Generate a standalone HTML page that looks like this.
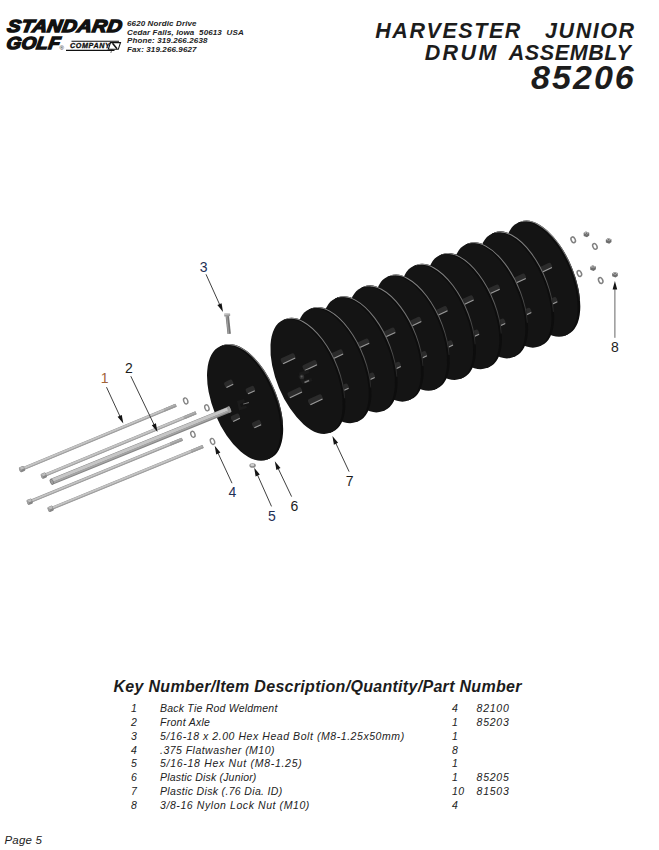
<!DOCTYPE html>
<html><head><meta charset="utf-8"><title>Harvester Junior Drum Assembly 85206</title>
<style>
html,body{margin:0;padding:0;background:#fff;}
body{width:659px;height:850px;position:relative;overflow:hidden;font-family:"Liberation Sans",sans-serif;color:#1a1a1a;}
.abs{position:absolute;white-space:nowrap;}
.logo1{left:8.8px;top:17.3px;font-size:17.4px;font-weight:bold;font-style:italic;letter-spacing:0.3px;line-height:19px;transform-origin:0 0;transform:scaleX(1.165) skewX(-8deg);color:#111;-webkit-text-stroke:1.35px #111;}
.logo2{left:8.2px;top:34.2px;font-size:17.4px;font-weight:bold;font-style:italic;letter-spacing:0.3px;line-height:19px;transform-origin:0 0;transform:scaleX(1.09) skewX(-8deg);color:#111;-webkit-text-stroke:1.35px #111;}
.reg{left:59.5px;top:45px;font-size:6px;line-height:6px;color:#111;}
.comp{left:69.5px;top:42px;font-size:6.4px;line-height:8px;font-weight:bold;font-style:italic;letter-spacing:0.55px;color:#111;transform-origin:0 0;transform:scaleX(1.12);-webkit-text-stroke:0.3px #111;}
.addr{left:127px;top:20.4px;font-size:8px;line-height:8.53px;font-weight:bold;font-style:italic;letter-spacing:0.12px;color:#222;white-space:pre;}
.t{right:25px;text-align:right;font-style:italic;font-weight:bold;color:#1c1c1c;}
.t1{top:18.5px;right:23.4px;font-size:21.5px;line-height:24px;letter-spacing:1.55px;word-spacing:15.7px;}
.t2{top:40.5px;right:27.6px;font-size:21.5px;line-height:24px;word-spacing:4px;}
.t3{top:58px;right:23.2px;font-size:34px;line-height:38px;letter-spacing:2.05px;}
.kh{left:113.5px;top:676.8px;font-size:16px;letter-spacing:0.3px;line-height:20px;font-weight:bold;font-style:italic;color:#1c1c1c;}
table{position:absolute;left:120px;top:702px;border-collapse:collapse;font-size:10.5px;font-style:italic;color:#222;}
td{padding:0;height:13.85px;line-height:13.85px;white-space:nowrap;}
td.k{width:40px;padding-left:11px;box-sizing:border-box;}
td.d{width:292px;}
td.q{width:24.6px;letter-spacing:0.5px;}
td.p{letter-spacing:0.75px;}
.pg{left:4.5px;top:833px;letter-spacing:0.2px;font-size:11.5px;line-height:14px;font-style:italic;color:#222;}
svg.draw{position:absolute;left:0;top:0;}
svg.draw text{font-family:"Liberation Sans",sans-serif;font-size:14px;fill:#1f2a44;}
</style></head><body>
<div class="abs logo1">STANDARD</div>
<div class="abs logo2">GOLF</div>
<div class="abs reg">&#174;</div>
<svg class="abs" style="left:64px;top:38px" width="60" height="16" viewBox="0 0 60 16">
<path d="M7.5 3.2H55M2 12.4H50.5" stroke="#111" stroke-width="1.1" fill="none"/>
<path d="M46.5 4.6H56.5L54.3 11.3H44.3Z" fill="#fff" stroke="#111" stroke-width="1.1"/>
<path d="M48.5 5.3L53 10.8" stroke="#111" stroke-width="1.5"/>
<path d="M48 11.3L46.8 15" stroke="#111" stroke-width="0.6"/>
</svg>
<div class="abs comp">COMPANY</div>
<div class="abs addr">6620 Nordic Drive
Cedar Falls, Iowa  50613  USA
Phone: 319.266.2638
Fax: 319.266.9627</div>
<div class="abs t t1">HARVESTER JUNIOR</div>
<div class="abs t t2"><span style="letter-spacing:2.4px">DRUM</span> <span style="letter-spacing:0.6px">ASSEMBLY</span></div>
<div class="abs t t3">85206</div>
<svg class="draw" width="659" height="850" viewBox="0 0 659 850">
<defs><linearGradient id="hl" gradientUnits="userSpaceOnUse" x1="-61" y1="0" x2="40" y2="0"><stop offset="0" stop-color="#8c8c8c"/><stop offset="0.55" stop-color="#6a6a6a"/><stop offset="1" stop-color="#1a1a1a"/></linearGradient></defs>
<g transform="translate(245.1,402.4) rotate(67.5)"><g transform="translate(0,1.45)"><ellipse cx="0" cy="-2.9" rx="61.3" ry="30.6" fill="#0d0d0d"/><rect x="-61.3" y="-2.9" width="122.6" height="2.9" fill="#0d0d0d"/><path d="M-60.9 -2.4A60.9 30.6 0 0 1 34.9 -27.5" fill="none" stroke="url(#hl)" stroke-width="1"/><ellipse cx="0" cy="0" rx="61.3" ry="30.6" fill="#141414"/></g></g><g transform="translate(228.8,383.7) rotate(-25)"><rect x="-4.5" y="-3.1" width="9" height="6.2" rx="2" fill="#2b2b2b"/><rect x="-3.7" y="1.9000000000000001" width="7.4" height="1.1" fill="#9a9a9a"/></g><g transform="translate(250.4,390.0) rotate(-25)"><rect x="-4.5" y="-3.1" width="9" height="6.2" rx="2" fill="#2b2b2b"/><rect x="-3.7" y="1.9000000000000001" width="7.4" height="1.1" fill="#9a9a9a"/></g><g transform="translate(235.5,417.6) rotate(-25)"><rect x="-4.5" y="-3.1" width="9" height="6.2" rx="2" fill="#2b2b2b"/><rect x="-3.7" y="1.9000000000000001" width="7.4" height="1.1" fill="#9a9a9a"/></g><g transform="translate(256.7,424.0) rotate(-25)"><rect x="-4.5" y="-3.1" width="9" height="6.2" rx="2" fill="#2b2b2b"/><rect x="-3.7" y="1.9000000000000001" width="7.4" height="1.1" fill="#9a9a9a"/></g><g transform="translate(240,404)"><path d="M-3 -3L4 -5L5 -2L0 0L1 3L6 1.5L7 4L-1 6.5Z" fill="#1b1b1b"/><rect x="3" y="0.5" width="6" height="1" fill="#777" transform="rotate(-16)"/></g>
<ellipse cx="185.7" cy="400.9" rx="2.0" ry="3.1" transform="rotate(-20 185.7 400.9)" fill="#fff" stroke="#858585" stroke-width="1.4"/>
<ellipse cx="206.9" cy="407.8" rx="2.0" ry="3.1" transform="rotate(-20 206.9 407.8)" fill="#fff" stroke="#858585" stroke-width="1.4"/>
<g transform="translate(22.3,469) rotate(-22.53)"><rect x="0" y="-1.60" width="166.5" height="3.20" fill="#8e8e8e"/><rect x="0" y="-1.30" width="166.5" height="1.98" fill="#c4c4c4"/><rect x="0" y="0.68" width="166.5" height="0.58" fill="#a8a8a8"/><rect x="153.5" y="-1.60" width="13" height="3.20" rx="0.8" fill="#9a9a9a"/><rect x="153.5" y="-1.20" width="12.5" height="1.44" fill="#b0b0b0"/><rect x="-3" y="-2.7" width="5.4" height="5.4" rx="1.2" fill="#858585"/><rect x="-2.5" y="-2.3" width="4.4" height="2.6" rx="0.6" fill="#bdbdbd"/><ellipse cx="-2.2" cy="0" rx="1" ry="2" fill="#9d9d9d"/></g>
<g transform="translate(44.1,475.5) rotate(-22.43)"><rect x="0" y="-1.60" width="164.3" height="3.20" fill="#8e8e8e"/><rect x="0" y="-1.30" width="164.3" height="1.98" fill="#c4c4c4"/><rect x="0" y="0.68" width="164.3" height="0.58" fill="#a8a8a8"/><rect x="151.3" y="-1.60" width="13" height="3.20" rx="0.8" fill="#9a9a9a"/><rect x="151.3" y="-1.20" width="12.5" height="1.44" fill="#b0b0b0"/><rect x="-3" y="-2.7" width="5.4" height="5.4" rx="1.2" fill="#858585"/><rect x="-2.5" y="-2.3" width="4.4" height="2.6" rx="0.6" fill="#bdbdbd"/><ellipse cx="-2.2" cy="0" rx="1" ry="2" fill="#9d9d9d"/></g>
<g transform="translate(50.5,482.3) rotate(-22.16)"><rect x="0" y="-3.1" width="194.4" height="6.2" rx="1.5" fill="#858585"/><rect x="0.6" y="-2.7" width="193.2" height="3.2" fill="#c6c6c6"/><rect x="0.6" y="0.5" width="193.2" height="1.5" fill="#a6a6a6"/><ellipse cx="1.4" cy="0" rx="1.5" ry="2.8" fill="#a0a0a0" stroke="#707070" stroke-width="0.6"/><rect x="191.4" y="-3.1" width="3" height="6.2" rx="1" fill="#9a9a9a"/></g>
<g transform="translate(30,501.6) rotate(-22.28)"><rect x="0" y="-1.60" width="164.6" height="3.20" fill="#8e8e8e"/><rect x="0" y="-1.30" width="164.6" height="1.98" fill="#c4c4c4"/><rect x="0" y="0.68" width="164.6" height="0.58" fill="#a8a8a8"/><rect x="151.6" y="-1.60" width="13" height="3.20" rx="0.8" fill="#9a9a9a"/><rect x="151.6" y="-1.20" width="12.5" height="1.44" fill="#b0b0b0"/><rect x="-3" y="-2.7" width="5.4" height="5.4" rx="1.2" fill="#858585"/><rect x="-2.5" y="-2.3" width="4.4" height="2.6" rx="0.6" fill="#bdbdbd"/><ellipse cx="-2.2" cy="0" rx="1" ry="2" fill="#9d9d9d"/></g>
<g transform="translate(50.9,508.7) rotate(-22.23)"><rect x="0" y="-1.60" width="164.4" height="3.20" fill="#8e8e8e"/><rect x="0" y="-1.30" width="164.4" height="1.98" fill="#c4c4c4"/><rect x="0" y="0.68" width="164.4" height="0.58" fill="#a8a8a8"/><rect x="151.4" y="-1.60" width="13" height="3.20" rx="0.8" fill="#9a9a9a"/><rect x="151.4" y="-1.20" width="12.5" height="1.44" fill="#b0b0b0"/><rect x="-3" y="-2.7" width="5.4" height="5.4" rx="1.2" fill="#858585"/><rect x="-2.5" y="-2.3" width="4.4" height="2.6" rx="0.6" fill="#bdbdbd"/><ellipse cx="-2.2" cy="0" rx="1" ry="2" fill="#9d9d9d"/></g>
<ellipse cx="192.9" cy="434.3" rx="2.0" ry="3.1" transform="rotate(-20 192.9 434.3)" fill="#fff" stroke="#858585" stroke-width="1.4"/>
<ellipse cx="212.5" cy="441.4" rx="2.0" ry="3.1" transform="rotate(-20 212.5 441.4)" fill="#fff" stroke="#858585" stroke-width="1.4"/>
<g transform="translate(542.8,278.7) rotate(67.4)"><g transform="translate(0,1.45)"><ellipse cx="0" cy="-2.9" rx="61.1" ry="29.8" fill="#0d0d0d"/><rect x="-61.1" y="-2.9" width="122.2" height="2.9" fill="#0d0d0d"/><path d="M-60.7 -2.4A60.7 29.8 0 0 1 34.8 -26.8" fill="none" stroke="url(#hl)" stroke-width="1"/><ellipse cx="0" cy="0" rx="61.1" ry="29.8" fill="#141414"/></g></g><g transform="translate(523.0,261.4) rotate(-25)"><rect x="-7.5" y="-3.1" width="15" height="6.2" rx="2" fill="#2b2b2b"/><rect x="-6.7" y="1.9000000000000001" width="13.4" height="1.1" fill="#9a9a9a"/></g><g transform="translate(529.8,295.5) rotate(-25)"><rect x="-7.5" y="-3.1" width="15" height="6.2" rx="2" fill="#2b2b2b"/><rect x="-6.7" y="1.9000000000000001" width="13.4" height="1.1" fill="#9a9a9a"/></g><g transform="translate(544.8,268.2) rotate(-25)"><rect x="-7.5" y="-3.1" width="15" height="6.2" rx="2" fill="#2b2b2b"/><rect x="-6.7" y="1.9000000000000001" width="13.4" height="1.1" fill="#9a9a9a"/></g><g transform="translate(550.2,302.4) rotate(-25)"><rect x="-7.5" y="-3.1" width="15" height="6.2" rx="2" fill="#2b2b2b"/><rect x="-6.7" y="1.9000000000000001" width="13.4" height="1.1" fill="#9a9a9a"/></g>
<g transform="translate(516.7,289.5) rotate(67.4)"><g transform="translate(0,1.45)"><ellipse cx="0" cy="-2.9" rx="61.1" ry="29.8" fill="#0d0d0d"/><rect x="-61.1" y="-2.9" width="122.2" height="2.9" fill="#0d0d0d"/><path d="M-60.7 -2.4A60.7 29.8 0 0 1 34.8 -26.8" fill="none" stroke="url(#hl)" stroke-width="1"/><ellipse cx="0" cy="0" rx="61.1" ry="29.8" fill="#141414"/></g></g><g transform="translate(496.9,272.2) rotate(-25)"><rect x="-7.5" y="-3.1" width="15" height="6.2" rx="2" fill="#2b2b2b"/><rect x="-6.7" y="1.9000000000000001" width="13.4" height="1.1" fill="#9a9a9a"/></g><g transform="translate(503.7,306.3) rotate(-25)"><rect x="-7.5" y="-3.1" width="15" height="6.2" rx="2" fill="#2b2b2b"/><rect x="-6.7" y="1.9000000000000001" width="13.4" height="1.1" fill="#9a9a9a"/></g><g transform="translate(518.7,279.0) rotate(-25)"><rect x="-7.5" y="-3.1" width="15" height="6.2" rx="2" fill="#2b2b2b"/><rect x="-6.7" y="1.9000000000000001" width="13.4" height="1.1" fill="#9a9a9a"/></g><g transform="translate(524.2,313.2) rotate(-25)"><rect x="-7.5" y="-3.1" width="15" height="6.2" rx="2" fill="#2b2b2b"/><rect x="-6.7" y="1.9000000000000001" width="13.4" height="1.1" fill="#9a9a9a"/></g>
<g transform="translate(490.6,300.3) rotate(67.4)"><g transform="translate(0,1.45)"><ellipse cx="0" cy="-2.9" rx="61.1" ry="29.8" fill="#0d0d0d"/><rect x="-61.1" y="-2.9" width="122.2" height="2.9" fill="#0d0d0d"/><path d="M-60.7 -2.4A60.7 29.8 0 0 1 34.8 -26.8" fill="none" stroke="url(#hl)" stroke-width="1"/><ellipse cx="0" cy="0" rx="61.1" ry="29.8" fill="#141414"/></g></g><g transform="translate(470.8,283.0) rotate(-25)"><rect x="-7.5" y="-3.1" width="15" height="6.2" rx="2" fill="#2b2b2b"/><rect x="-6.7" y="1.9000000000000001" width="13.4" height="1.1" fill="#9a9a9a"/></g><g transform="translate(477.6,317.1) rotate(-25)"><rect x="-7.5" y="-3.1" width="15" height="6.2" rx="2" fill="#2b2b2b"/><rect x="-6.7" y="1.9000000000000001" width="13.4" height="1.1" fill="#9a9a9a"/></g><g transform="translate(492.6,289.8) rotate(-25)"><rect x="-7.5" y="-3.1" width="15" height="6.2" rx="2" fill="#2b2b2b"/><rect x="-6.7" y="1.9000000000000001" width="13.4" height="1.1" fill="#9a9a9a"/></g><g transform="translate(498.1,324.0) rotate(-25)"><rect x="-7.5" y="-3.1" width="15" height="6.2" rx="2" fill="#2b2b2b"/><rect x="-6.7" y="1.9000000000000001" width="13.4" height="1.1" fill="#9a9a9a"/></g>
<g transform="translate(464.5,311.1) rotate(67.4)"><g transform="translate(0,1.45)"><ellipse cx="0" cy="-2.9" rx="61.1" ry="29.8" fill="#0d0d0d"/><rect x="-61.1" y="-2.9" width="122.2" height="2.9" fill="#0d0d0d"/><path d="M-60.7 -2.4A60.7 29.8 0 0 1 34.8 -26.8" fill="none" stroke="url(#hl)" stroke-width="1"/><ellipse cx="0" cy="0" rx="61.1" ry="29.8" fill="#141414"/></g></g><g transform="translate(444.7,293.8) rotate(-25)"><rect x="-7.5" y="-3.1" width="15" height="6.2" rx="2" fill="#2b2b2b"/><rect x="-6.7" y="1.9000000000000001" width="13.4" height="1.1" fill="#9a9a9a"/></g><g transform="translate(451.5,327.9) rotate(-25)"><rect x="-7.5" y="-3.1" width="15" height="6.2" rx="2" fill="#2b2b2b"/><rect x="-6.7" y="1.9000000000000001" width="13.4" height="1.1" fill="#9a9a9a"/></g><g transform="translate(466.5,300.6) rotate(-25)"><rect x="-7.5" y="-3.1" width="15" height="6.2" rx="2" fill="#2b2b2b"/><rect x="-6.7" y="1.9000000000000001" width="13.4" height="1.1" fill="#9a9a9a"/></g><g transform="translate(472.0,334.8) rotate(-25)"><rect x="-7.5" y="-3.1" width="15" height="6.2" rx="2" fill="#2b2b2b"/><rect x="-6.7" y="1.9000000000000001" width="13.4" height="1.1" fill="#9a9a9a"/></g>
<g transform="translate(438.4,321.9) rotate(67.4)"><g transform="translate(0,1.45)"><ellipse cx="0" cy="-2.9" rx="61.1" ry="29.8" fill="#0d0d0d"/><rect x="-61.1" y="-2.9" width="122.2" height="2.9" fill="#0d0d0d"/><path d="M-60.7 -2.4A60.7 29.8 0 0 1 34.8 -26.8" fill="none" stroke="url(#hl)" stroke-width="1"/><ellipse cx="0" cy="0" rx="61.1" ry="29.8" fill="#141414"/></g></g><g transform="translate(418.6,304.6) rotate(-25)"><rect x="-7.5" y="-3.1" width="15" height="6.2" rx="2" fill="#2b2b2b"/><rect x="-6.7" y="1.9000000000000001" width="13.4" height="1.1" fill="#9a9a9a"/></g><g transform="translate(425.4,338.7) rotate(-25)"><rect x="-7.5" y="-3.1" width="15" height="6.2" rx="2" fill="#2b2b2b"/><rect x="-6.7" y="1.9000000000000001" width="13.4" height="1.1" fill="#9a9a9a"/></g><g transform="translate(440.4,311.4) rotate(-25)"><rect x="-7.5" y="-3.1" width="15" height="6.2" rx="2" fill="#2b2b2b"/><rect x="-6.7" y="1.9000000000000001" width="13.4" height="1.1" fill="#9a9a9a"/></g><g transform="translate(445.9,345.6) rotate(-25)"><rect x="-7.5" y="-3.1" width="15" height="6.2" rx="2" fill="#2b2b2b"/><rect x="-6.7" y="1.9000000000000001" width="13.4" height="1.1" fill="#9a9a9a"/></g>
<g transform="translate(412.3,332.7) rotate(67.4)"><g transform="translate(0,1.45)"><ellipse cx="0" cy="-2.9" rx="61.1" ry="29.8" fill="#0d0d0d"/><rect x="-61.1" y="-2.9" width="122.2" height="2.9" fill="#0d0d0d"/><path d="M-60.7 -2.4A60.7 29.8 0 0 1 34.8 -26.8" fill="none" stroke="url(#hl)" stroke-width="1"/><ellipse cx="0" cy="0" rx="61.1" ry="29.8" fill="#141414"/></g></g><g transform="translate(392.4,315.4) rotate(-25)"><rect x="-7.5" y="-3.1" width="15" height="6.2" rx="2" fill="#2b2b2b"/><rect x="-6.7" y="1.9000000000000001" width="13.4" height="1.1" fill="#9a9a9a"/></g><g transform="translate(399.2,349.5) rotate(-25)"><rect x="-7.5" y="-3.1" width="15" height="6.2" rx="2" fill="#2b2b2b"/><rect x="-6.7" y="1.9000000000000001" width="13.4" height="1.1" fill="#9a9a9a"/></g><g transform="translate(414.2,322.2) rotate(-25)"><rect x="-7.5" y="-3.1" width="15" height="6.2" rx="2" fill="#2b2b2b"/><rect x="-6.7" y="1.9000000000000001" width="13.4" height="1.1" fill="#9a9a9a"/></g><g transform="translate(419.8,356.4) rotate(-25)"><rect x="-7.5" y="-3.1" width="15" height="6.2" rx="2" fill="#2b2b2b"/><rect x="-6.7" y="1.9000000000000001" width="13.4" height="1.1" fill="#9a9a9a"/></g>
<g transform="translate(386.2,343.5) rotate(67.4)"><g transform="translate(0,1.45)"><ellipse cx="0" cy="-2.9" rx="61.1" ry="29.8" fill="#0d0d0d"/><rect x="-61.1" y="-2.9" width="122.2" height="2.9" fill="#0d0d0d"/><path d="M-60.7 -2.4A60.7 29.8 0 0 1 34.8 -26.8" fill="none" stroke="url(#hl)" stroke-width="1"/><ellipse cx="0" cy="0" rx="61.1" ry="29.8" fill="#141414"/></g></g><g transform="translate(366.4,326.2) rotate(-25)"><rect x="-7.5" y="-3.1" width="15" height="6.2" rx="2" fill="#2b2b2b"/><rect x="-6.7" y="1.9000000000000001" width="13.4" height="1.1" fill="#9a9a9a"/></g><g transform="translate(373.2,360.3) rotate(-25)"><rect x="-7.5" y="-3.1" width="15" height="6.2" rx="2" fill="#2b2b2b"/><rect x="-6.7" y="1.9000000000000001" width="13.4" height="1.1" fill="#9a9a9a"/></g><g transform="translate(388.2,333.0) rotate(-25)"><rect x="-7.5" y="-3.1" width="15" height="6.2" rx="2" fill="#2b2b2b"/><rect x="-6.7" y="1.9000000000000001" width="13.4" height="1.1" fill="#9a9a9a"/></g><g transform="translate(393.7,367.2) rotate(-25)"><rect x="-7.5" y="-3.1" width="15" height="6.2" rx="2" fill="#2b2b2b"/><rect x="-6.7" y="1.9000000000000001" width="13.4" height="1.1" fill="#9a9a9a"/></g>
<g transform="translate(360.1,354.3) rotate(67.4)"><g transform="translate(0,1.45)"><ellipse cx="0" cy="-2.9" rx="61.1" ry="29.8" fill="#0d0d0d"/><rect x="-61.1" y="-2.9" width="122.2" height="2.9" fill="#0d0d0d"/><path d="M-60.7 -2.4A60.7 29.8 0 0 1 34.8 -26.8" fill="none" stroke="url(#hl)" stroke-width="1"/><ellipse cx="0" cy="0" rx="61.1" ry="29.8" fill="#141414"/></g></g><g transform="translate(340.2,337.0) rotate(-25)"><rect x="-7.5" y="-3.1" width="15" height="6.2" rx="2" fill="#2b2b2b"/><rect x="-6.7" y="1.9000000000000001" width="13.4" height="1.1" fill="#9a9a9a"/></g><g transform="translate(347.1,371.1) rotate(-25)"><rect x="-7.5" y="-3.1" width="15" height="6.2" rx="2" fill="#2b2b2b"/><rect x="-6.7" y="1.9000000000000001" width="13.4" height="1.1" fill="#9a9a9a"/></g><g transform="translate(362.1,343.8) rotate(-25)"><rect x="-7.5" y="-3.1" width="15" height="6.2" rx="2" fill="#2b2b2b"/><rect x="-6.7" y="1.9000000000000001" width="13.4" height="1.1" fill="#9a9a9a"/></g><g transform="translate(367.6,378.0) rotate(-25)"><rect x="-7.5" y="-3.1" width="15" height="6.2" rx="2" fill="#2b2b2b"/><rect x="-6.7" y="1.9000000000000001" width="13.4" height="1.1" fill="#9a9a9a"/></g>
<g transform="translate(334.0,365.1) rotate(67.4)"><g transform="translate(0,1.45)"><ellipse cx="0" cy="-2.9" rx="61.1" ry="29.8" fill="#0d0d0d"/><rect x="-61.1" y="-2.9" width="122.2" height="2.9" fill="#0d0d0d"/><path d="M-60.7 -2.4A60.7 29.8 0 0 1 34.8 -26.8" fill="none" stroke="url(#hl)" stroke-width="1"/><ellipse cx="0" cy="0" rx="61.1" ry="29.8" fill="#141414"/></g></g><g transform="translate(314.2,347.8) rotate(-25)"><rect x="-7.5" y="-3.1" width="15" height="6.2" rx="2" fill="#2b2b2b"/><rect x="-6.7" y="1.9000000000000001" width="13.4" height="1.1" fill="#9a9a9a"/></g><g transform="translate(321.0,381.9) rotate(-25)"><rect x="-7.5" y="-3.1" width="15" height="6.2" rx="2" fill="#2b2b2b"/><rect x="-6.7" y="1.9000000000000001" width="13.4" height="1.1" fill="#9a9a9a"/></g><g transform="translate(336.0,354.6) rotate(-25)"><rect x="-7.5" y="-3.1" width="15" height="6.2" rx="2" fill="#2b2b2b"/><rect x="-6.7" y="1.9000000000000001" width="13.4" height="1.1" fill="#9a9a9a"/></g><g transform="translate(341.5,388.8) rotate(-25)"><rect x="-7.5" y="-3.1" width="15" height="6.2" rx="2" fill="#2b2b2b"/><rect x="-6.7" y="1.9000000000000001" width="13.4" height="1.1" fill="#9a9a9a"/></g>
<g transform="translate(307.9,375.9) rotate(67.4)"><g transform="translate(0,1.45)"><ellipse cx="0" cy="-2.9" rx="61.1" ry="29.8" fill="#0d0d0d"/><rect x="-61.1" y="-2.9" width="122.2" height="2.9" fill="#0d0d0d"/><path d="M-60.7 -2.4A60.7 29.8 0 0 1 34.8 -26.8" fill="none" stroke="url(#hl)" stroke-width="1"/><ellipse cx="0" cy="0" rx="61.1" ry="29.8" fill="#141414"/></g></g><g transform="translate(288.1,358.6) rotate(-25)"><rect x="-7.5" y="-3.1" width="15" height="6.2" rx="2" fill="#2b2b2b"/><rect x="-6.7" y="1.9000000000000001" width="13.4" height="1.1" fill="#9a9a9a"/></g><g transform="translate(294.9,392.7) rotate(-25)"><rect x="-7.5" y="-3.1" width="15" height="6.2" rx="2" fill="#2b2b2b"/><rect x="-6.7" y="1.9000000000000001" width="13.4" height="1.1" fill="#9a9a9a"/></g><g transform="translate(309.9,365.4) rotate(-25)"><rect x="-7.5" y="-3.1" width="15" height="6.2" rx="2" fill="#2b2b2b"/><rect x="-6.7" y="1.9000000000000001" width="13.4" height="1.1" fill="#9a9a9a"/></g><g transform="translate(315.4,399.6) rotate(-25)"><rect x="-7.5" y="-3.1" width="15" height="6.2" rx="2" fill="#2b2b2b"/><rect x="-6.7" y="1.9000000000000001" width="13.4" height="1.1" fill="#9a9a9a"/></g><g transform="translate(303.4,375.9)"><path d="M-4 -3.5L5 -6.5L6 -3L-1 -0.5L1 4L8 2L9 5L-1 8L-5 1Z" fill="#1b1b1b"/><circle cx="-1.5" cy="1" r="2.4" fill="#303030"/><circle cx="-1.8" cy="0.6" r="1" fill="#5a5a5a"/><rect x="1" y="5" width="5" height="1.6" fill="#777" transform="rotate(-22 3 6)"/></g>
<!--POST-->
<text x="104.6" y="383.2" text-anchor="middle" fill="#a0643a" style="fill:#a0643a">1</text>
<line x1="106.5" y1="387.2" x2="120.2" y2="416.8" stroke="#2a2a2a" stroke-width="0.9"/><polygon points="123.3,423.6 117.6,416.8 121.8,414.9" fill="#141414"/>
<text x="128.8" y="373.2" text-anchor="middle" fill="#1c1c1c" style="fill:#1c1c1c">2</text>
<line x1="130.8" y1="376.2" x2="154.3" y2="425.2" stroke="#2a2a2a" stroke-width="0.9"/><polygon points="157.5,432.0 151.8,425.3 155.9,423.3" fill="#141414"/>
<text x="203.6" y="272.0" text-anchor="middle" fill="#1f2f55" style="fill:#1f2f55">3</text>
<line x1="206.0" y1="274.3" x2="219.9" y2="305.1" stroke="#2a2a2a" stroke-width="0.9"/><polygon points="223.0,311.9 217.4,305.1 221.6,303.2" fill="#141414"/>
<text x="232.5" y="497.2" text-anchor="middle" fill="#1f2f55" style="fill:#1f2f55">4</text>
<line x1="232.0" y1="483.2" x2="217.8" y2="452.6" stroke="#2a2a2a" stroke-width="0.9"/><polygon points="214.7,445.8 220.4,452.5 216.2,454.5" fill="#141414"/>
<text x="272" y="521.0" text-anchor="middle" fill="#1f2f55" style="fill:#1f2f55">5</text>
<line x1="271.5" y1="506.4" x2="257.3" y2="474.5" stroke="#2a2a2a" stroke-width="0.9"/><polygon points="254.2,467.7 259.8,474.5 255.6,476.4" fill="#141414"/>
<text x="294.4" y="510.7" text-anchor="middle" fill="#1c1c1c" style="fill:#1c1c1c">6</text>
<line x1="291.6" y1="496.6" x2="278.0" y2="468.1" stroke="#2a2a2a" stroke-width="0.9"/><polygon points="274.8,461.3 280.5,468.0 276.4,470.0" fill="#141414"/>
<text x="349.6" y="485.6" text-anchor="middle" fill="#1c1c1c" style="fill:#1c1c1c">7</text>
<line x1="349.1" y1="471.6" x2="335.6" y2="442.8" stroke="#2a2a2a" stroke-width="0.9"/><polygon points="332.4,436.0 338.1,442.7 333.9,444.7" fill="#141414"/>
<text x="614.9" y="351.8" text-anchor="middle" fill="#1c1c1c" style="fill:#1c1c1c">8</text>
<line x1="614.9" y1="337.8" x2="614.9" y2="288.5" stroke="#555" stroke-width="0.9"/><polygon points="614.9,281.0 617.2,289.5 612.6,289.5" fill="#141414"/>
<g transform="translate(227.2,315) rotate(-6)"><rect x="-1.7" y="1" width="3.4" height="18" fill="#747474"/><rect x="-1.2" y="1" width="1.2" height="18" fill="#a0a0a0"/><rect x="-3" y="-1.8" width="6" height="3.2" rx="0.8" fill="#9a9a9a"/><rect x="-3" y="-1.8" width="6" height="1.4" rx="0.6" fill="#d4d4d4"/></g>
<g transform="translate(252.6,465.5)"><ellipse cx="0" cy="0" rx="3.2" ry="2.3" fill="#8a8a8a"/><ellipse cx="-0.3" cy="-0.5" rx="2" ry="1.2" fill="#cfcfcf"/></g>
<ellipse cx="573.2" cy="239.8" rx="2.0" ry="3.0" transform="rotate(-25 573.2 239.8)" fill="#fff" stroke="#808080" stroke-width="1.5"/>
<ellipse cx="594.9" cy="246.4" rx="2.0" ry="3.0" transform="rotate(-25 594.9 246.4)" fill="#fff" stroke="#808080" stroke-width="1.5"/>
<ellipse cx="579.4" cy="273.5" rx="2.0" ry="3.0" transform="rotate(-25 579.4 273.5)" fill="#fff" stroke="#808080" stroke-width="1.5"/>
<ellipse cx="600.7" cy="280.5" rx="2.0" ry="3.0" transform="rotate(-25 600.7 280.5)" fill="#fff" stroke="#808080" stroke-width="1.5"/>
<g transform="translate(586.4,234.3)"><path d="M-2.8 -1.2L-0.6 -2.8L2.8 -1.6L2.9 1.2L0.6 2.9L-2.7 1.6Z" fill="#6e6e6e"/><path d="M-2.8 -1.2L-0.6 -2.8L2.8 -1.6L0.4 0.2Z" fill="#b5b5b5"/><circle cx="0.1" cy="-1.1" r="0.8" fill="#666"/></g>
<g transform="translate(608.6,240.9)"><path d="M-2.8 -1.2L-0.6 -2.8L2.8 -1.6L2.9 1.2L0.6 2.9L-2.7 1.6Z" fill="#6e6e6e"/><path d="M-2.8 -1.2L-0.6 -2.8L2.8 -1.6L0.4 0.2Z" fill="#b5b5b5"/><circle cx="0.1" cy="-1.1" r="0.8" fill="#666"/></g>
<g transform="translate(593,268.1)"><path d="M-2.8 -1.2L-0.6 -2.8L2.8 -1.6L2.9 1.2L0.6 2.9L-2.7 1.6Z" fill="#6e6e6e"/><path d="M-2.8 -1.2L-0.6 -2.8L2.8 -1.6L0.4 0.2Z" fill="#b5b5b5"/><circle cx="0.1" cy="-1.1" r="0.8" fill="#666"/></g>
<g transform="translate(614.9,274.7)"><path d="M-2.8 -1.2L-0.6 -2.8L2.8 -1.6L2.9 1.2L0.6 2.9L-2.7 1.6Z" fill="#6e6e6e"/><path d="M-2.8 -1.2L-0.6 -2.8L2.8 -1.6L0.4 0.2Z" fill="#b5b5b5"/><circle cx="0.1" cy="-1.1" r="0.8" fill="#666"/></g>
</svg>
<div class="abs kh">Key Number/Item Description/Quantity/Part Number</div>
<table>
<tr><td class="k">1</td><td class="d" style="letter-spacing:0.22px">Back Tie Rod Weldment</td><td class="q">4</td><td class="p">82100</td></tr>
<tr><td class="k">2</td><td class="d" style="letter-spacing:0.27px">Front Axle</td><td class="q">1</td><td class="p">85203</td></tr>
<tr><td class="k">3</td><td class="d" style="letter-spacing:0.56px">5/16-18 x 2.00 Hex Head Bolt (M8-1.25x50mm)</td><td class="q">1</td><td class="p"></td></tr>
<tr><td class="k">4</td><td class="d" style="letter-spacing:0.47px">.375 Flatwasher (M10)</td><td class="q">8</td><td class="p"></td></tr>
<tr><td class="k">5</td><td class="d" style="letter-spacing:0.70px">5/16-18 Hex Nut (M8-1.25)</td><td class="q">1</td><td class="p"></td></tr>
<tr><td class="k">6</td><td class="d" style="letter-spacing:0.18px">Plastic Disk (Junior)</td><td class="q">1</td><td class="p">85205</td></tr>
<tr><td class="k">7</td><td class="d" style="letter-spacing:0.34px">Plastic Disk (.76 Dia. ID)</td><td class="q">10</td><td class="p">81503</td></tr>
<tr><td class="k">8</td><td class="d" style="letter-spacing:0.58px">3/8-16 Nylon Lock Nut (M10)</td><td class="q">4</td><td class="p"></td></tr>
</table>
<div class="abs pg">Page 5</div>
</body></html>
